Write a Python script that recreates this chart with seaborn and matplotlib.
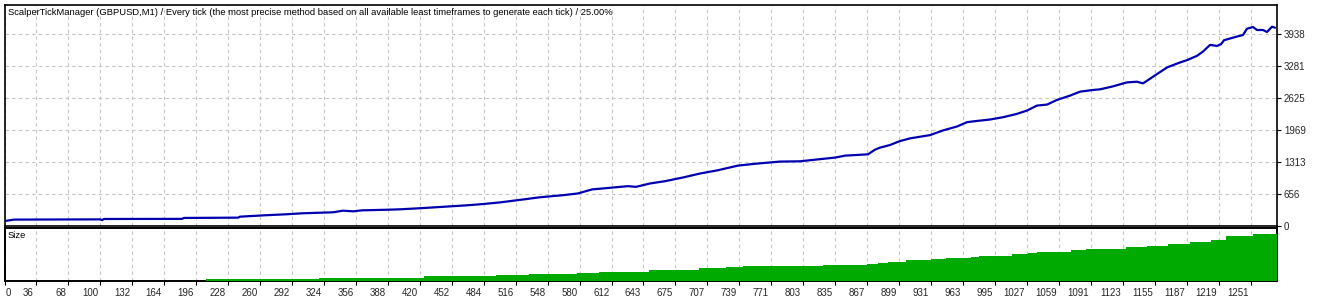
import matplotlib
matplotlib.use("Agg")
import matplotlib.pyplot as plt
import matplotlib.transforms as mtransforms
import seaborn as sns
import numpy as np

# ---- data ----
title = ("ScalperTickManager (GBPUSD,M1) / Every tick (the most precise method based on all "
         "available least timeframes to generate each tick) / 25.00%")

eq_trade = [5, 14, 100, 102, 104, 182, 184, 238, 240, 265, 286, 302, 333, 343, 353, 362, 388, 400,
            424, 445, 466, 483, 500, 524, 539, 564, 578, 592, 628, 636, 650, 665, 683, 700, 718, 738,
            757, 780, 800, 822, 835, 845, 868, 875, 880, 890, 900, 910, 930, 943, 957, 967, 975, 990,
            1003, 1017, 1027, 1037, 1047, 1057, 1070, 1080, 1093, 1100, 1113, 1127, 1137, 1143, 1157,
            1167, 1180, 1187, 1197, 1203, 1210, 1217, 1221, 1224, 1233, 1243, 1247, 1253, 1257, 1263,
            1267, 1272, 1275]
eq_balance = [97, 125, 130, 115, 138, 140, 159, 165, 185, 214, 234, 254, 275, 308, 295, 315, 328, 336,
              363, 390, 417, 444, 478, 540, 581, 628, 662, 744, 811, 797, 866, 913, 989, 1070, 1138,
              1233, 1274, 1315, 1321, 1369, 1397, 1437, 1464, 1560, 1601, 1655, 1736, 1791, 1858, 1954,
              2035, 2123, 2144, 2178, 2225, 2294, 2362, 2464, 2484, 2580, 2668, 2749, 2784, 2797, 2858,
              2940, 2953, 2919, 3110, 3246, 3348, 3396, 3484, 3572, 3708, 3688, 3722, 3804, 3857, 3912,
              4041, 4075, 4014, 4014, 3973, 4082, 4061]

vol_start = [206, 319, 424, 491, 496, 529, 577, 599, 649, 683, 699, 726, 743, 823, 867, 878, 888, 906,
             931, 946, 971, 979, 1012, 1028, 1037, 1071, 1086, 1126, 1147, 1168, 1190, 1211, 1226, 1253]
vol_size = [0.03, 0.055, 0.09, 0.10, 0.11, 0.14, 0.16, 0.18, 0.20, 0.21, 0.24, 0.26, 0.28, 0.30, 0.32,
            0.34, 0.37, 0.39, 0.41, 0.44, 0.46, 0.48, 0.51, 0.53, 0.55, 0.58, 0.61, 0.64, 0.67, 0.70,
            0.74, 0.77, 0.86, 0.89]
last_trade = 1277

x_labels = [0, 36, 68, 100, 132, 164, 196, 228, 260, 292, 324, 356, 388, 420, 452, 484, 516, 548, 580,
            612, 643, 675, 707, 739, 771, 803, 835, 867, 899, 931, 963, 995, 1027, 1059, 1091, 1123,
            1155, 1187, 1219, 1251]
y_labels = [0, 656, 1313, 1969, 2625, 3281, 3938]

# ---- style ----
sns.set_style("white")
plt.rcParams["font.family"] = ["Liberation Sans", "DejaVu Sans"]
plt.rcParams["font.size"] = 7

W, H = 1322, 298
fig = plt.figure(figsize=(W / 100, H / 100), dpi=100)
fig.patch.set_facecolor("white")

def px_axes(l, t, r, b):
    return fig.add_axes([l / W, 1 - b / H, (r - l) / W, (b - t) / H])

ax = px_axes(4.5, 4.7, 1277, 225.7)
ax2 = px_axes(4.5, 228.3, 1277, 281)

xmin, xmax = 4.5, last_trade
grid_kw = dict(color="#c4c4c4", linestyle=(0, (3, 3)), linewidth=0.8)

# main equity panel
sns.lineplot(x=eq_trade, y=eq_balance, ax=ax, color="#0000b0", linewidth=1.6, zorder=3)
ax.set_xlim(xmin, xmax)
ax.set_ylim(0, 4533)
ax.yaxis.tick_right()
ax.set_yticks(y_labels)
ax.set_yticklabels([str(v) for v in y_labels])
xt = [xmin] + x_labels[1:]
ax.set_xticks(xt)
ax.tick_params(axis="x", length=0, labelbottom=False)
ax.tick_params(axis="y", right=True, length=3, width=0.8, color="black", pad=2, labelsize=7)
ax.grid(True, **grid_kw)
ax.set_xlabel("")
ax.set_ylabel("")
for s in ax.spines.values():
    s.set_color("black")
    s.set_linewidth(1.2)
ax.annotate(title, xy=(0, 1), xycoords="axes fraction", xytext=(3, -3), textcoords="offset pixels",
            ha="left", va="top", fontsize=6.75, color="black")

# volume panel
edges = vol_start + [last_trade]
sns.histplot(x=vol_start, weights=vol_size, bins=edges, ax=ax2, color="#00aa00", alpha=1.0,
             linewidth=0, element="bars", zorder=3)
ax2.set_xlim(xmin, xmax)
ax2.set_ylim(0, 1.0)
ax2.set_yticks([])
ax2.set_ylabel("")
ax2.set_xlabel("")
ax2.set_xticks(xt)
ax2.set_xticklabels([str(v) for v in x_labels])
ax2.tick_params(axis="x", bottom=True, length=3, width=0.8, color="black", pad=2, labelsize=7)
ax2.grid(True, axis="x", **grid_kw)
for s in ax2.spines.values():
    s.set_color("black")
    s.set_linewidth(1.4)
ax2.annotate("Size", xy=(0, 1), xycoords="axes fraction", xytext=(3, -3), textcoords="offset pixels",
             ha="left", va="top", fontsize=6.75, color="black")

labels = ax2.get_xticklabels()
for i, lab in enumerate(labels):
    if i == 0:
        lab.set_ha("left")
        lab.set_transform(lab.get_transform() + mtransforms.ScaledTranslation(1 / 100, 0, fig.dpi_scale_trans))
    else:
        lab.set_ha("right")
        lab.set_transform(lab.get_transform() + mtransforms.ScaledTranslation(-2 / 100, 0, fig.dpi_scale_trans))

fig.savefig("out.png", dpi=100, facecolor="white")
